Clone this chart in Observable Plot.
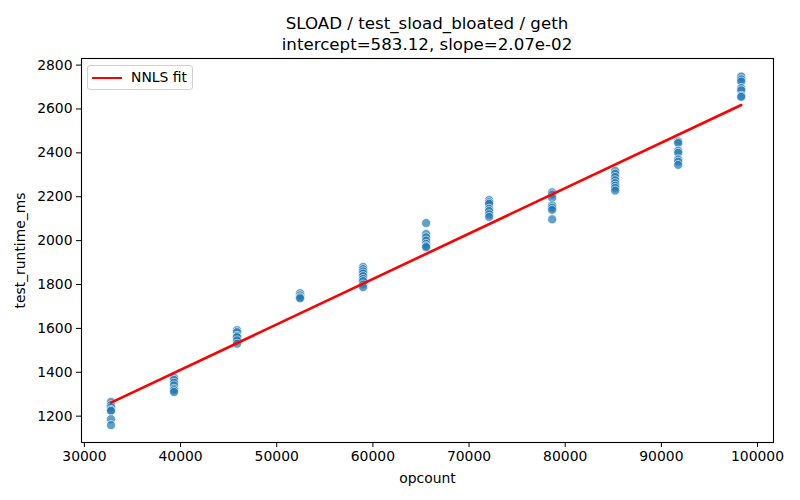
<!DOCTYPE html>
<html>
<head>
<meta charset="utf-8">
<script src="https://cdn.jsdelivr.net/npm/d3@7"></script>
<script src="https://cdn.jsdelivr.net/npm/@observablehq/plot@0.6"></script>
<style>
  html, body { margin: 0; padding: 0; background: white; }
  #wrap { position: relative; width: 800px; height: 500px; font-family: "DejaVu Sans", sans-serif; }
  #title { position: absolute; left: 0; top: 0; width: 854px; text-align: center; font-size: 16.67px; line-height: 21px; padding-top: 13px; color: black; z-index: 2; }
  #chart { position: absolute; left: 0; top: 50px; z-index: 1; }
  #legend { position: absolute; left: 87px; top: 65px; width: 104px; height: 23px; border: 1px solid #d0d0d0; border-radius: 3px; background: rgba(255,255,255,0.8); font-size: 13.9px; z-index: 3; }
  #legend .sw { position: absolute; left: 4px; top: 10.5px; width: 30px; height: 2.5px; background: red; }
  #legend .lb { position: absolute; left: 43px; top: 3px; line-height: 16px; }
</style>
</head>
<body>
<div id="wrap">
  <div id="title"></div>
  <div id="chart"></div>
  <div id="legend"><div class="sw"></div><div class="lb"></div></div>
</div>
<script>
const titleLines = ["SLOAD / test_sload_bloated / geth", "intercept=583.12, slope=2.07e-02"];
const legendLabel = "NNLS fit";
const xLabel = "opcount";
const yLabel = "test_runtime_ms";
const intercept = 583.12;
const slope = 2.07e-02;
const opcounts = [32768, 39322, 45875, 52429, 58982, 65536, 72090, 78643, 85197, 91750, 98304];
const runtimes = [
  [1265, 1250, 1240, 1229, 1224, 1186, 1159],
  [1375, 1365, 1352, 1340, 1325, 1318, 1310],
  [1592, 1583, 1566, 1560, 1545, 1530],
  [1760, 1750, 1742, 1737],
  [1880, 1870, 1860, 1850, 1838, 1825, 1815, 1800, 1788],
  [2080, 2030, 2015, 2000, 1985, 1975, 1970],
  [2185, 2175, 2168, 2145, 2135, 2120, 2108],
  [2220, 2210, 2195, 2160, 2150, 2140, 2097],
  [2318, 2305, 2290, 2275, 2262, 2250, 2240, 2228],
  [2452, 2445, 2410, 2400, 2370, 2360, 2345],
  [2748, 2735, 2725, 2695, 2685, 2660, 2655]
];
const xTicks = [30000, 40000, 50000, 60000, 70000, 80000, 90000, 100000];
const yTicks = [1200, 1400, 1600, 1800, 2000, 2200, 2400, 2600, 2800];

const points = opcounts.flatMap((x, i) => runtimes[i].map(y => ({x, y})));
const xMin = d3.min(opcounts), xMax = d3.max(opcounts);
const fit = [xMin, xMax].map(x => ({x, y: intercept + slope * x}));

document.getElementById("title").innerHTML = titleLines.join("<br>");
document.querySelector("#legend .lb").textContent = legendLabel;

const chart = Plot.plot({
  width: 800,
  height: 450,
  marginTop: 8,
  marginBottom: 58,
  marginLeft: 81,
  marginRight: 27,
  style: { fontFamily: "DejaVu Sans", fontSize: "13.9px", color: "black", background: "transparent" },
  x: { domain: [29700, 101660] },
  y: { domain: [1080, 2830] },
  marks: [
    Plot.dot(points, { x: "x", y: "y", r: 4.5, fill: "#1f77b4", fillOpacity: 0.7, stroke: "white", strokeWidth: 0.6 }),
    Plot.line(fit, { x: "x", y: "y", stroke: "red", strokeWidth: 2.6 }),
    Plot.frame({ stroke: "black", strokeWidth: 1.1 }),
    Plot.axisX({ ticks: xTicks, tickFormat: d => String(d), tickSize: 5, tickPadding: 4, label: xLabel, labelAnchor: "center", labelArrow: "none", labelOffset: 40 }),
    Plot.axisY({ ticks: yTicks, tickFormat: d => String(d), tickSize: 5, tickPadding: 4, label: yLabel, labelAnchor: "center", labelArrow: "none", labelOffset: 66 })
  ]
});
document.getElementById("chart").appendChild(chart);
</script>
</body>
</html>
